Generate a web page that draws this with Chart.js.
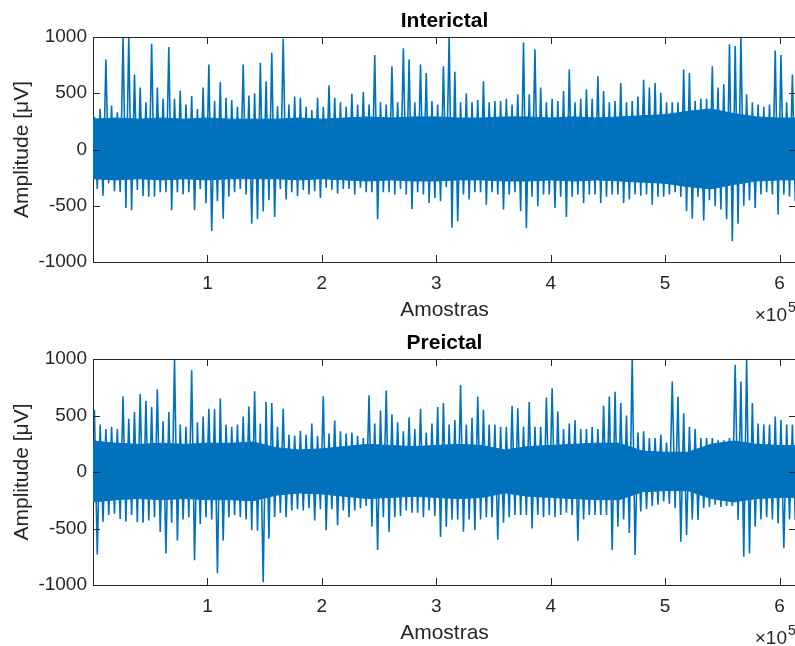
<!DOCTYPE html>
<html><head><meta charset="utf-8">
<script src="https://cdn.jsdelivr.net/npm/chart.js@4/dist/chart.umd.min.js"></script>
<style>
html,body{margin:0;padding:0;background:#fff;overflow:hidden;width:795px;height:646px;}
#wrap{position:relative;width:800px;height:646px;overflow:hidden;}
canvas{position:absolute;left:0;}
</style></head><body>
<div id="wrap">
<canvas id="c1" width="800" height="323" style="top:0px"></canvas>
<canvas id="c2" width="800" height="323" style="top:323px"></canvas>
</div>
<script>
// samples per envelope bin and per core-band step
const BIN = 5000;
const CORE_STEP = 20000;
const X_MIN = 1, X_MAX = 614400;
const xTicks = [100000, 200000, 300000, 400000, 500000, 600000];
const xTickLabels = ['1', '2', '3', '4', '5', '6'];
const yTicks = [-1000, -500, 0, 500, 1000];
const yTickLabels = ['-1000', '-500', '0', '500', '1000'];
const titles = ['Interictal', 'Preictal'];
const xLabel = 'Amostras';
const yLabel = 'Amplitude [\u03BCV]';

// Interictal: per-bin maximum / minimum (µV)
const interMax = [290,360,800,390,330,1000,1000,667,550,420,940,550,450,910,450,525,400,475,360,550,
  755,430,600,460,440,380,755,480,500,770,607,860,385,985,400,470,460,380,350,460,
  380,570,460,420,380,495,400,510,400,840,420,400,740,420,900,800,420,755,680,430,
  400,740,1000,690,420,500,420,440,607,420,430,430,450,400,490,950,490,890,550,420,
  450,430,520,710,420,450,535,450,650,520,420,430,590,420,430,470,620,550,590,505,
  420,420,420,710,680,430,450,450,740,550,580,935,920,1000,490,420,400,380,400,880,
  840,420,667];
const interMin = [-350,-410,-300,-370,-380,-520,-540,-360,-415,-420,-420,-380,-380,-540,-380,-400,-380,-540,-350,-480,
  -725,-460,-615,-420,-380,-350,-400,-660,-620,-550,-450,-600,-350,-445,-380,-415,-360,-400,-370,-430,
  -340,-360,-390,-350,-350,-400,-340,-380,-380,-620,-380,-380,-400,-350,-400,-530,-380,-400,-475,-430,
  -460,-335,-695,-637,-400,-445,-380,-380,-490,-380,-400,-533,-400,-380,-548,-700,-420,-505,-400,-400,
  -520,-420,-600,-420,-400,-475,-400,-400,-475,-420,-400,-400,-475,-445,-400,-410,-400,-490,-420,-420,
  -400,-380,-420,-548,-615,-420,-630,-450,-505,-533,-620,-815,-660,-500,-450,-520,-400,-380,-400,-578,
  -400,-420,-460];
// Interictal: dense core band
const interCoreHi = [270,280,270,280,270,280,270,270,270,280,270,280,290,280,290,290,280,280,290,290,280,290,280,290,300,310,340,360,320,290,280,280];
const interCoreLo = [-260,-270,-260,-270,-260,-270,-260,-260,-260,-270,-260,-270,-280,-270,-280,-280,-270,-270,-280,-280,-270,-280,-270,-280,-290,-300,-330,-350,-310,-280,-270,-270];

// Preictal: per-bin maximum / minimum (µV)
const preMax = [550,420,380,400,380,670,470,530,690,630,575,730,450,530,1000,420,400,900,440,490,
  560,555,650,420,400,420,490,580,715,430,620,610,400,560,330,320,365,330,430,320,
  670,340,455,360,340,350,320,300,680,430,545,720,510,440,360,485,380,560,350,430,
  575,610,420,460,770,420,480,667,550,420,420,400,400,585,565,400,620,400,400,660,
  740,535,380,430,460,380,380,400,380,585,667,710,610,500,1000,350,360,300,300,330,
  260,800,667,520,400,380,300,300,300,280,280,300,950,800,990,610,430,420,420,490,
  460,420,420];
const preMin = [-730,-440,-380,-370,-415,-440,-380,-445,-450,-430,-400,-530,-720,-450,-605,-420,-400,-780,-460,-400,
  -420,-895,-605,-400,-380,-400,-420,-515,-520,-975,-590,-400,-360,-400,-340,-330,-340,-320,-430,-330,
  -515,-330,-470,-340,-400,-340,-320,-300,-485,-690,-400,-530,-400,-390,-340,-360,-360,-400,-340,-390,
  -575,-485,-420,-420,-528,-420,-513,-420,-400,-400,-600,-450,-400,-380,-380,-380,-500,-380,-400,-380,
  -400,-380,-360,-380,-608,-420,-380,-380,-380,-380,-690,-485,-420,-540,-735,-350,-330,-300,-290,-260,
  -280,-320,-617,-558,-420,-425,-320,-310,-290,-310,-300,-300,-425,-750,-720,-485,-420,-400,-420,-455,
  -675,-420,-425];
// Preictal: dense core band
const preCoreHi = [275,255,245,255,245,255,255,265,215,195,205,225,245,235,225,235,245,235,195,225,235,245,255,255,185,175,175,245,275,245,235,235];
const preCoreLo = [-265,-245,-235,-245,-235,-245,-245,-255,-205,-185,-195,-215,-235,-225,-215,-225,-235,-225,-185,-215,-225,-235,-245,-245,-175,-165,-165,-235,-265,-235,-225,-225];

const BLUE = '#0072BD';
const AXC = '#262626';
const FONT = 'Liberation Sans, Arial, Helvetica, sans-serif';

const boxPlugin = {
  id: 'matlabBox',
  afterDraw(chart) {
    const {ctx, chartArea: a, scales: {x, y}} = chart;
    ctx.save();
    ctx.strokeStyle = AXC;
    ctx.lineWidth = 1;
    ctx.beginPath();
    ctx.moveTo(a.left + 0.5, a.top + 0.5); ctx.lineTo(a.right - 0.5, a.top + 0.5);
    ctx.moveTo(a.right - 0.5, a.top + 0.5); ctx.lineTo(a.right - 0.5, a.bottom + 0.5);
    const TL = 7;
    xTicks.forEach(v => {
      const px = Math.round(x.getPixelForValue(v)) + 0.5;
      ctx.moveTo(px, a.bottom); ctx.lineTo(px, a.bottom - TL);
      ctx.moveTo(px, a.top); ctx.lineTo(px, a.top + TL);
    });
    yTicks.forEach(v => {
      const py = Math.round(y.getPixelForValue(v)) + 0.5;
      ctx.moveTo(a.left, py); ctx.lineTo(a.left + TL, py);
      ctx.moveTo(a.right, py); ctx.lineTo(a.right - TL, py);
    });
    ctx.stroke();
    // exponent label
    ctx.fillStyle = AXC;
    ctx.textBaseline = 'alphabetic';
    ctx.textAlign = 'right';
    ctx.font = '19px ' + FONT;
    ctx.fillText('\u00D710', 787, 321);
    ctx.textAlign = 'left';
    ctx.font = '14px ' + FONT;
    ctx.fillText('5', 788, 312);
    ctx.restore();
  }
};

function makeChart(id, title, maxArr, minArr, coreHi, coreLo, padTop, titlePadBottom) {
  const sig = [];
  maxArr.forEach((v, i) => {
    sig.push({x: i * BIN + BIN * 0.25, y: v});
    sig.push({x: i * BIN + BIN * 0.75, y: minArr[i]});
  });
  const hi = coreHi.map((v, i) => ({x: i * CORE_STEP, y: v}));
  const lo = coreLo.map((v, i) => ({x: i * CORE_STEP, y: v}));
  return new Chart(document.getElementById(id), {
    type: 'line',
    data: {
      datasets: [
        {data: hi, borderColor: BLUE, borderWidth: 1, backgroundColor: BLUE, fill: '+1', pointRadius: 0},
        {data: lo, borderColor: BLUE, borderWidth: 1, backgroundColor: BLUE, fill: false, pointRadius: 0},
        {data: sig, borderColor: BLUE, borderWidth: 1.6, fill: false, pointRadius: 0, tension: 0}
      ]
    },
    options: {
      responsive: false,
      animation: false,
      devicePixelRatio: 1,
      layout: {padding: {left: 0, right: 4, top: padTop, bottom: 0}},
      plugins: {
        legend: {display: false},
        tooltip: {enabled: false},
        title: {
          display: true, text: title, fullSize: false, color: '#000',
          font: {family: FONT, size: 21, weight: 'bold', lineHeight: 1.2},
          padding: {top: 0, bottom: titlePadBottom}
        }
      },
      scales: {
        x: {
          type: 'linear', min: X_MIN, max: X_MAX,
          afterFit: s => { s.height = 61; },
          afterBuildTicks: s => { s.ticks = xTicks.map(v => ({value: v})); },
          grid: {display: false, drawTicks: false},
          border: {display: true, color: AXC, width: 1},
          ticks: {
            padding: 10, color: AXC, maxRotation: 0, autoSkip: false,
            font: {family: FONT, size: 19, lineHeight: 1.2},
            callback: (v) => xTickLabels[xTicks.indexOf(v)]
          },
          title: {display: true, text: xLabel, color: AXC, font: {family: FONT, size: 21, lineHeight: 1.2}, padding: {top: 0, bottom: 0}}
        },
        y: {
          type: 'linear', min: -1000, max: 1000,
          afterFit: s => { s.width = 93; },
          afterBuildTicks: s => { s.ticks = yTicks.map(v => ({value: v})); },
          grid: {display: false, drawTicks: false},
          border: {display: true, color: AXC, width: 1},
          ticks: {
            padding: 6, color: AXC, autoSkip: false,
            font: {family: FONT, size: 19, lineHeight: 1.2},
            callback: (v) => yTickLabels[yTicks.indexOf(v)]
          },
          title: {display: true, text: yLabel, color: AXC, font: {family: FONT, size: 21, lineHeight: 1.2}, padding: {top: 10, bottom: 0}}
        }
      }
    },
    plugins: [boxPlugin]
  });
}

makeChart('c1', titles[0], interMax, interMin, interCoreHi, interCoreLo, 8.2, 3.6);
makeChart('c2', titles[1], preMax, preMin, preCoreHi, preCoreLo, 8, 2.8);
</script>
</body></html>
